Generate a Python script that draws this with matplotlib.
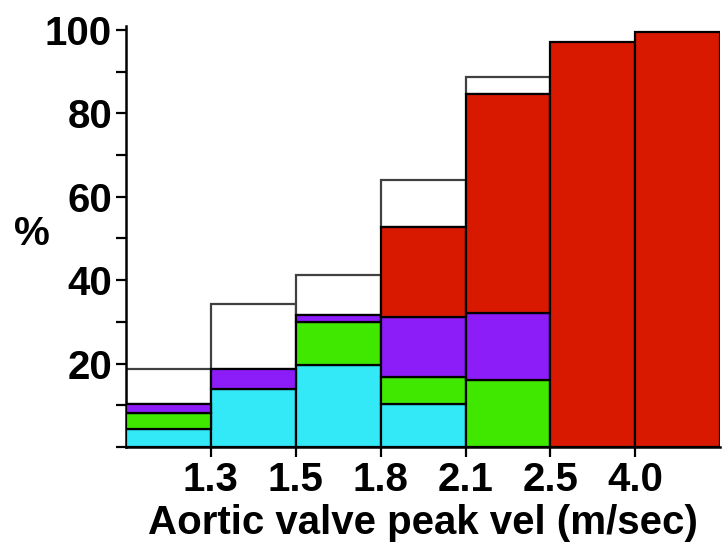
import numpy as np
import matplotlib.pyplot as plt

# velocity bins (boundaries shown as tick labels)
tick_labels = ['1.3', '1.5', '1.8', '2.1', '2.5', '4.0']

# segment heights (%) per bin, stacked bottom to top
cyan = [4.3, 14.0, 19.6, 10.4, 0, 0, 0]
green = [3.9, 0, 10.3, 6.4, 16.0, 0, 0]
purple = [2.0, 4.6, 1.8, 14.3, 16.1, 0, 0]
red = [0, 0, 0, 21.6, 52.6, 97.1, 99.6]
# outline total (white remainder on top)
total = [18.8, 34.3, 41.2, 64.1, 88.8, 97.1, 99.6]

plt.rcParams['font.family'] = ['Liberation Sans', 'DejaVu Sans']

fig = plt.figure(figsize=(7.22, 5.47), dpi=100)
ax = fig.add_axes([0.1745, 0.1828, 0.823, 0.77])

x = np.arange(len(total))
series = [(cyan, '#33e9f8'), (green, '#40e800'),
          (purple, '#8c1cf8'), (red, '#d91800')]
bottom = np.zeros(len(total))
for vals, col in series:
    vals = np.array(vals, dtype=float)
    m = vals > 0
    ax.bar(x[m], vals[m], bottom=bottom[m], width=1.0, align='edge',
           color=col, edgecolor='black', linewidth=1.6, zorder=3)
    bottom += vals

white = np.array(total) - bottom
m = white > 0.05
ax.bar(x[m], white[m], bottom=bottom[m], width=1.0, align='edge',
       color='white', edgecolor='#404040', linewidth=1.6, zorder=2)

ax.set_xlim(0, 7)
ax.set_ylim(0, 101)
ax.set_xticks(np.arange(1, 7))
ax.set_xticklabels(tick_labels)
ax.set_yticks([20, 40, 60, 80, 100])
ax.set_yticks([0, 10, 30, 50, 70, 90], minor=True)
ax.tick_params(axis='both', which='major', labelsize=29, width=1.6, length=7,
               direction='out', pad=3)
ax.tick_params(axis='y', which='minor', width=1.6, length=7)
for lab in ax.get_xticklabels() + ax.get_yticklabels():
    lab.set_fontweight('bold')

for s in ['top', 'right']:
    ax.spines[s].set_visible(False)
ax.spines['left'].set_linewidth(1.8)
ax.spines['bottom'].set_linewidth(1.8)

ax.set_xlabel('Aortic valve peak vel (m/sec)', fontsize=29, fontweight='bold',
              labelpad=4)
ax.set_ylabel('%', fontsize=29, fontweight='bold', rotation=0, va='center',
              ha='center')
ax.yaxis.set_label_coords(-0.158, 0.505)

fig.savefig('out.png', dpi=100)
